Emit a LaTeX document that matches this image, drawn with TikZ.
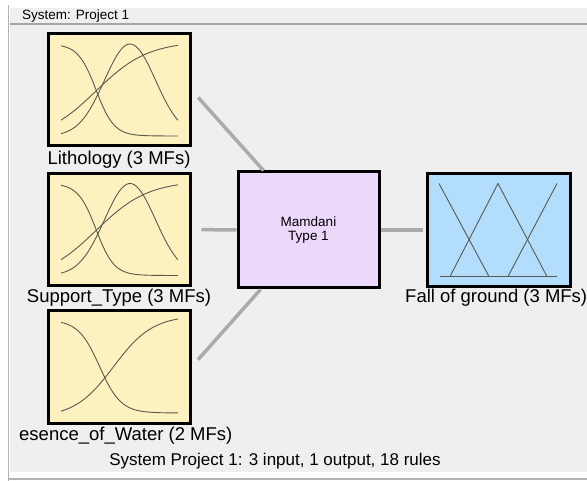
\documentclass[tikz,border=0pt]{standalone}
\usepackage{fontspec}
\setmainfont{Liberation Sans}
\usetikzlibrary{positioning}

\definecolor{panelgray}{HTML}{EFEFEF}
\definecolor{mfyellow}{HTML}{FDF1BF}
\definecolor{rulepurple}{HTML}{ECD8FB}
\definecolor{outblue}{HTML}{B3DDFD}
\definecolor{linkgray}{HTML}{ABABAB}
\definecolor{curvegray}{HTML}{5A5A50}

\tikzset{
  mfbox/.style={draw=black, line width=3pt, fill=mfyellow, minimum width=142pt, minimum height=112pt, inner sep=0pt},
  rulebox/.style={mfbox, fill=rulepurple, minimum width=141pt, minimum height=116pt, align=center, font=\fontsize{13.5}{14.5}\selectfont},
  outbox/.style={mfbox, fill=outblue, minimum width=143pt, minimum height=113pt},
  link/.style={draw=linkgray, line width=3.5pt},
  mf/.style={draw=curvegray, line width=0.9pt},
  lbl/.style={font=\fontsize{18.5}{20}\selectfont, inner sep=0pt, anchor=base}
}

\begin{document}
\begin{tikzpicture}[x=1pt,y=-1pt,on grid]
  \useasboundingbox (0,0) rectangle (587,481);
  \clip (0,0) rectangle (587,481);
  % window frame
  \fill[white] (0,0) rectangle (587,481);
  \fill[panelgray] (10,8) rectangle (587,472);
  \draw[gray!60, line width=1pt] (8.5,5) -- (8.5,481);
  \draw[gray!70, line width=2pt] (10,24) -- (587,24);
  \draw[gray!60, line width=2pt] (8,479) -- (587,479);
  \node[anchor=base west, inner sep=0pt, font=\fontsize{13.5}{15}\selectfont] (title) at (22,19.5) {System: Project 1};

  % boxes
  \node[mfbox] (in1) at (119,90) {};
  \node[mfbox] (in2) [below=139.5pt of in1] {};
  \node[mfbox] (in3) [below=137.5pt of in2] {};
  \node[rulebox] (rule) at (308.5,230) {Mamdani\\Type 1};
  \node[outbox] (out1) [right=190pt of rule] {};

  % labels
  \node[lbl] (lab1) at (119,165) {Lithology (3 MFs)};
  \node[lbl] (lab2) at (119,303) {Support\_Type (3 MFs)};
  \node[lbl, anchor=base west] (lab3) at (19,440) {esence\_of\_Water (2 MFs)};
  \node[lbl, anchor=base west] (lab4) at (405,303) {Fall of ground (3 MFs)};
  \node[font=\fontsize{17}{19}\selectfont, inner sep=0pt, anchor=base] (summary) at (275,465) {System Project 1: 3 input, 1 output, 18 rules};

  % connectors
  \draw[link, shorten <=10pt] (in1.east) -- ([xshift=27pt]rule.north west);
  \draw[link, shorten <=10pt] (in2.east) -- (rule.west);
  \draw[link, shorten <=10pt] (in3.east) -- ([xshift=24pt]rule.south west);
  \draw[link, shorten >=3pt] (rule.east) -- (out1.west);

  % membership functions, inputs with 3 MFs
  \foreach \mfnode in {in1,in2}{
    \begin{scope}[shift={(\mfnode.center)}]
      \draw[mf] plot[domain=0:1, samples=60, smooth] ({-58+117*\x},{46-92/(1+exp(13*(\x-0.3)))});
      \draw[mf] plot[domain=0:1, samples=60, smooth] ({-58+117*\x},{46-92*exp(-(\x-0.59)^2/0.095)});
      \draw[mf] plot[domain=0:1, samples=60, smooth] ({-58+117*\x},{46-92*(-0.05+1.08/(1+exp(-4.5*(\x-0.3))))});
    \end{scope}
  }
  % input with 2 MFs
  \begin{scope}[shift={(in3.center)}]
    \draw[mf] plot[domain=0:1, samples=60, smooth] ({-58+117*\x},{46-93/(1+exp(11*(\x-0.33)))});
    \draw[mf] plot[domain=0:1, samples=60, smooth] ({-58+117*\x},{46-93*(-0.05+1.1/(1+exp(-6*(\x-0.45))))});
  \end{scope}
  % output triangles
  \begin{scope}[shift={(out1.center)}, mf]
    \draw (-58.5,46.5) -- (58.5,46.5);
    \draw (-59.5,-46.5) -- (-9.5,46.5);
    \draw (-48.5,46.5) -- (-0.5,-46.5) -- (48.5,46.5);
    \draw (9.5,46.5) -- (58.5,-46.5);
  \end{scope}
\end{tikzpicture}
\end{document}
